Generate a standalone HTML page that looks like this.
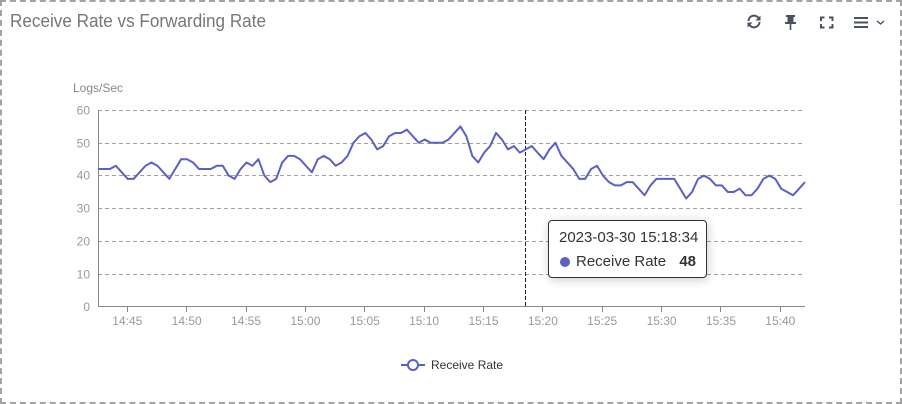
<!DOCTYPE html>
<html>
<head>
<meta charset="utf-8">
<style>
html,body{margin:0;padding:0;background:#fff;}
body{width:902px;height:404px;overflow:hidden;position:relative;font-family:"Liberation Sans",sans-serif;}
.frame{position:absolute;left:0;top:0;width:902px;height:404px;box-sizing:border-box;border:2px dashed #a3a3a3;}
svg{position:absolute;left:0;top:0;}
.tip{position:absolute;left:548px;top:220px;width:157px;height:56px;border:1px solid #333;border-radius:4px;background:#fff;box-shadow:1px 2px 10px rgba(0,0,0,0.2);font-family:"Liberation Sans",sans-serif;color:#333;}
.tip .t1{position:absolute;left:10px;top:8px;font-size:15px;line-height:18px;white-space:nowrap;}
.tip .dot{position:absolute;left:11px;top:36px;width:10px;height:10px;border-radius:50%;background:#5b5fc7;}
.tip .t2{position:absolute;left:27px;top:32px;font-size:15px;line-height:18px;white-space:nowrap;}
.tip .v{position:absolute;right:10px;top:32px;font-size:15px;line-height:18px;font-weight:bold;}
</style>
</head>
<body>
<div class="frame"></div>
<svg width="902" height="404" viewBox="0 0 902 404" xmlns="http://www.w3.org/2000/svg">
  <!-- title -->
  <text x="10" y="27" font-family="Liberation Sans, sans-serif" font-size="18" fill="#777" textLength="256" lengthAdjust="spacingAndGlyphs">Receive Rate vs Forwarding Rate</text>

  <!-- toolbar icons -->
  <g stroke="#4a5260" fill="none" stroke-width="2">
    <!-- refresh -->
    <path d="M748.5 21 A5.5 5.5 0 0 1 758.5 18" />
    <path d="M759.5 22 A5.5 5.5 0 0 1 749.5 25" />
  </g>
  <g fill="#4a5260">
    <polygon points="760.5,15.5 760.5,20.5 755.5,20.5"/>
    <polygon points="747.5,27.5 747.5,22.5 752.5,22.5"/>
    <!-- pin -->
    <rect x="786" y="15" width="9" height="2"/>
    <rect x="787.5" y="16" width="6" height="7"/>
    <rect x="785" y="22" width="11" height="2"/>
    <rect x="789.7" y="23" width="1.6" height="7"/>
    <!-- hamburger -->
    <rect x="854" y="17" width="14" height="2"/>
    <rect x="854" y="21.5" width="14" height="2"/>
    <rect x="854" y="26" width="14" height="2"/>
  </g>
  <g stroke="#4a5260" fill="none" stroke-width="2">
    <!-- fullscreen -->
    <path d="M821 21 V17.5 H824.5 M829 17.5 H832.5 V21 M832.5 24 V27.5 H829 M824.5 27.5 H821 V24"/>
    <!-- chevron -->
    <path d="M877 21 L880.5 24 L884 21" stroke-width="1.4"/>
  </g>

  <!-- axis name -->
  <text x="73" y="92" font-family="Liberation Sans, sans-serif" font-size="12" fill="#888">Logs/Sec</text>

  <!-- grid lines -->
  <g stroke="#a0a0a0" stroke-width="1" stroke-dasharray="4 3">
    <line x1="98" y1="110.5" x2="805" y2="110.5"/>
    <line x1="98" y1="143.5" x2="805" y2="143.5"/>
    <line x1="98" y1="175.5" x2="805" y2="175.5"/>
    <line x1="98" y1="208.5" x2="805" y2="208.5"/>
    <line x1="98" y1="241.5" x2="805" y2="241.5"/>
    <line x1="98" y1="274.5" x2="805" y2="274.5"/>
  </g>

  <!-- y labels -->
  <g font-family="Liberation Sans, sans-serif" font-size="12" fill="#999" text-anchor="end">
    <text x="90" y="114.5">60</text>
    <text x="90" y="147.5">50</text>
    <text x="90" y="179.5">40</text>
    <text x="90" y="212.5">30</text>
    <text x="90" y="245.5">20</text>
    <text x="90" y="278.5">10</text>
    <text x="90" y="311">0</text>
  </g>

  <!-- axes -->
  <line x1="98.5" y1="110" x2="98.5" y2="307" stroke="#888" stroke-width="1"/>
  <line x1="98" y1="306.5" x2="805" y2="306.5" stroke="#888" stroke-width="1"/>

  <!-- x ticks -->
  <g stroke="#888" stroke-width="1">
    <line x1="127.5" y1="307" x2="127.5" y2="312"/>
    <line x1="186.5" y1="307" x2="186.5" y2="312"/>
    <line x1="246.5" y1="307" x2="246.5" y2="312"/>
    <line x1="305.5" y1="307" x2="305.5" y2="312"/>
    <line x1="364.5" y1="307" x2="364.5" y2="312"/>
    <line x1="424.5" y1="307" x2="424.5" y2="312"/>
    <line x1="483.5" y1="307" x2="483.5" y2="312"/>
    <line x1="542.5" y1="307" x2="542.5" y2="312"/>
    <line x1="602.5" y1="307" x2="602.5" y2="312"/>
    <line x1="661.5" y1="307" x2="661.5" y2="312"/>
    <line x1="720.5" y1="307" x2="720.5" y2="312"/>
    <line x1="780.5" y1="307" x2="780.5" y2="312"/>
  </g>
  <g font-family="Liberation Sans, sans-serif" font-size="12" fill="#999" text-anchor="middle">
    <text x="127.3" y="325">14:45</text>
    <text x="186.7" y="325">14:50</text>
    <text x="246" y="325">14:55</text>
    <text x="305.4" y="325">15:00</text>
    <text x="364.8" y="325">15:05</text>
    <text x="424.1" y="325">15:10</text>
    <text x="483.5" y="325">15:15</text>
    <text x="542.9" y="325">15:20</text>
    <text x="602.2" y="325">15:25</text>
    <text x="661.6" y="325">15:30</text>
    <text x="721" y="325">15:35</text>
    <text x="780.3" y="325">15:40</text>
  </g>

  <!-- crosshair -->
  <line x1="525.5" y1="110" x2="525.5" y2="306" stroke="#222" stroke-width="1" stroke-dasharray="4 2"/>

  <!-- series -->
  <g transform="matrix(5.941 0 0 -3.278 98 306.7)">
    <polyline fill="none" stroke="#5b5fc7" stroke-width="2" stroke-linejoin="round" vector-effect="non-scaling-stroke"
      points="0,42 1,42 2,42 3,43 4,41 5,39 6,39 7,41 8,43 9,44 10,43 11,41 12,39 13,42 14,45 15,45 16,44 17,42 18,42 19,42 20,43 21,43 22,40 23,39 24,42 25,44 26,43 27,45 28,40 29,38 30,39 31,44 32,46 33,46 34,45 35,43 36,41 37,45 38,46 39,45 40,43 41,44 42,46 43,50 44,52 45,53 46,51 47,48 48,49 49,52 50,53 51,53 52,54 53,52 54,50 55,51 56,50 57,50 58,50 59,51 60,53 61,55 62,52 63,46 64,44 65,47 66,49 67,53 68,51 69,48 70,49 71,47 72,48 73,49 74,47 75,45 76,48 77,50 78,46 79,44 80,42 81,39 82,39 83,42 84,43 85,40 86,38 87,37 88,37 89,38 90,38 91,36 92,34 93,37 94,39 95,39 96,39 97,39 98,36 99,33 100,35 101,39 102,40 103,39 104,37 105,37 106,35 107,35 108,36 109,34 110,34 111,36 112,39 113,40 114,39 115,36 116,35 117,34 118,36 119,38"/>
  </g>

  <!-- legend -->
  <line x1="401" y1="365" x2="425" y2="365" stroke="#5b5fc7" stroke-width="2"/>
  <circle cx="413" cy="365" r="5" fill="#fff" stroke="#5b5fc7" stroke-width="2"/>
  <text x="431" y="369" font-family="Liberation Sans, sans-serif" font-size="12" fill="#333">Receive Rate</text>
</svg>

<div class="tip">
  <div class="t1">2023-03-30 15:18:34</div>
  <div class="dot"></div>
  <div class="t2">Receive Rate</div>
  <div class="v">48</div>
</div>
</body>
</html>
